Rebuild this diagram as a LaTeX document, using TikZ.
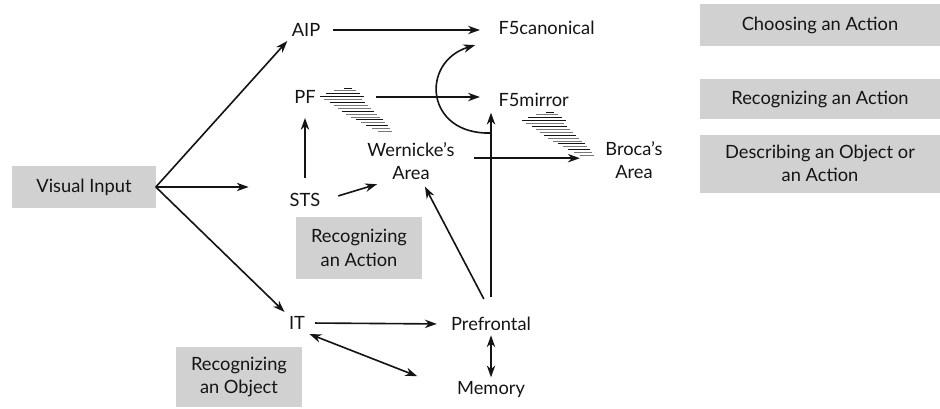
\documentclass[tikz,border=0pt]{standalone}
\usepackage{fontspec}
\setmainfont{Lato}
\usepackage{tikz}
\usetikzlibrary{arrows.meta, positioning}
\definecolor{bGray}{RGB}{209,209,209}
\definecolor{bInk}{RGB}{20,20,20}
\definecolor{bHatch}{RGB}{120,120,120}

\begin{document}
\begin{tikzpicture}[
  x=0.025cm, y=-0.025cm,
  font=\fontsize{13}{16.5}\selectfont,
  lbl/.style={inner sep=3pt, align=center, text=bInk},
  tag/.style={fill=bGray, align=center, inner sep=2pt, text=bInk},
  arrow/.style={-{Stealth[length=8.5pt, width=6pt]}, line width=1.15pt, bInk},
  both/.style={{Stealth[length=8.5pt, width=6pt]}-{Stealth[length=8.5pt, width=6pt]}, line width=1.15pt, bInk},
  brush/.pic={
    \foreach \r/\a/\b/\c in {0/24/32/bInk, 1/14/36/bHatch, 2/6/40/bInk, 3/0/44/bInk,
                             4/4/42/bHatch, 5/10/45/bInk, 6/14/48/bHatch, 7/18/51/bHatch,
                             8/22/54/bInk, 9/26/57/bHatch, 10/31/60/bHatch, 11/36/63/bInk,
                             12/41/65/bHatch, 13/46/68/bInk, 14/52/70/bHatch, 15/58/72/bHatch}
      \draw[\c, line width=0.65pt] (\a,2.9*\r) -- (\b,2.9*\r);
  }
]
  \useasboundingbox (0,0) rectangle (940,408);

  % boxes
  \node[tag, minimum width=3.575cm, minimum height=1.025cm] (vis) at (84,187) {Visual Input};
  \node[tag, minimum width=3.125cm, minimum height=1.525cm] (recact) at (359,248) {Recognizing\\an Action};
  \node[tag, minimum width=3.125cm, minimum height=1.5cm] (recobj) at (239,377) {Recognizing\\an Object};
  \node[tag, minimum width=6cm, minimum height=1.025cm] (choose) at (820,25) {Choosing an Action};
  \node[tag, minimum width=6cm, minimum height=1cm, below=0.825cm of choose] (recog) {Recognizing an Action};
  \node[tag, minimum width=6cm, minimum height=1.45cm, below=0.375cm of recog] (descr) {Describing an Object or\\an Action};

  % areas
  \node[lbl] (aip) at (306,30) {AIP};
  \node[lbl, anchor=west] (f5c) at (494,28) {F5canonical};
  \node[lbl] (pf) at (305,97) {PF};
  \node[lbl, anchor=west] (f5m) at (494,100) {F5mirror};
  \node[lbl] (wer) at (411,161) {Wernicke's\\Area};
  \node[lbl] (bro) at (634,160) {Broca's\\Area};
  \node[lbl] (sts) at (305,200) {STS};
  \node[lbl] (it) at (297,323) {IT};
  \node[lbl] (pre) at (491,324) {Prefrontal};
  \node[lbl] (mem) at (491,390) {Memory};

  \pic at (320,88) {brush};
  \pic at (522,112) {brush};

  % connections
  \draw[arrow] (vis.east) -- (aip.south west);
  \draw[arrow, shorten >=26pt] (vis.east) -- (vis.east -| sts.west);
  \draw[arrow] (vis.east) -- (it.north west);
  \draw[arrow, shorten <=6pt, shorten >=10pt] (aip.east) -- (aip.east -| f5c.west);
  \draw[arrow, shorten <=40pt, shorten >=10pt] (pf.east) -- (pf.east -| f5m.west);
  \draw[arrow, shorten <=8pt, shorten >=7pt] (sts.north) -- (pf.south);
  \draw[arrow, shorten <=10pt] (sts.east) -- ([xshift=10pt]wer.south west);
  \draw[arrow, shorten <=11pt, shorten >=15pt] ([yshift=2pt]wer.east) -- ([yshift=2pt]wer.east -| bro.west);
  \coordinate (bend) at (491,133);
  \draw[arrow, shorten >=14pt] (bend) .. controls (425,135) and (420,62) .. (f5c.south west);
  \draw[arrow, shorten <=11pt, shorten >=1pt] (pre.north) -- (pre.north |- f5m.south);
  \draw[arrow, shorten <=11pt, shorten >=2pt] (pre.north) -- ([xshift=9pt]wer.south);
  \draw[arrow, shorten <=4pt, shorten >=7pt] (it.east) -- (pre.west);
  \draw[both, shorten >=27pt] (it.south east) -- (mem.west);
  \draw[both] (pre.south) -- (mem.north);
\end{tikzpicture}
\end{document}
